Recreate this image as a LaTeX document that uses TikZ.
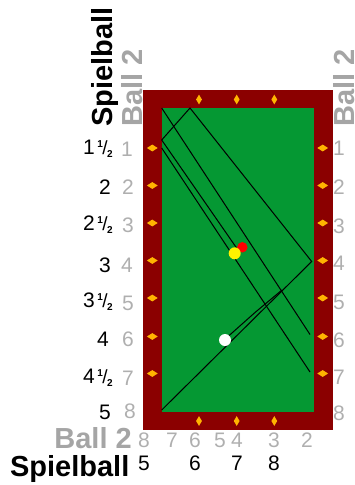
\documentclass[tikz,border=0pt]{standalone}
\usepackage{fontspec}
\setmainfont{Liberation Sans}
\usepackage{tikz}
\usetikzlibrary{shapes.geometric}
\definecolor{cushion}{RGB}{139,0,0}
\definecolor{cloth}{RGB}{5,152,51}
\definecolor{marker}{RGB}{255,180,0}
\definecolor{ballgray}{RGB}{165,165,165}
\definecolor{numgray}{RGB}{175,175,175}
\newcommand{\halb}[1]{#1\kern2.5pt\raisebox{7pt}{\fontsize{10}{10}\selectfont\bfseries 1}\kern-0.5pt{\fontsize{19}{19}\selectfont/}\kern-0.5pt\raisebox{-3pt}{\fontsize{10}{10}\selectfont\bfseries 2}}
\tikzset{
  blacknum/.style={inner sep=0pt,font=\fontsize{21}{21}\selectfont,text=black},
  graynum/.style={inner sep=0pt,font=\fontsize{21}{21}\selectfont,text=numgray},
  caption/.style={inner sep=0pt,font=\fontsize{29}{29}\selectfont\bfseries},
  topmark/.style={diamond,fill=marker,inner sep=0pt,minimum width=6pt,minimum height=10pt},
  sidemark/.style={diamond,fill=marker,inner sep=0pt,minimum width=11pt,minimum height=7pt},
  ball/.style={circle,inner sep=0pt,minimum size=12pt},
  track/.style={black,line width=1pt}
}
\begin{document}
\begin{tikzpicture}[x=1pt,y=-1pt]
  \useasboundingbox (0,0) rectangle (355,485);
  \fill[cushion] (143,90) rectangle (333,430);
  \fill[cloth] (161.5,107.5) rectangle (313.5,412);
  % markers on the cushion
  \node[topmark] (t1) at (199,99.5) {};
  \node[topmark] (t2) at (236.7,99.5) {};
  \node[topmark] (t3) at (274.3,99.5) {};
  \node[topmark] (b1) at (199,421) {};
  \node[topmark] (b2) at (236.7,421) {};
  \node[topmark] (b3) at (274.3,421) {};
  \node[sidemark] (l1) at (152.3,148) {};
  \node[sidemark] (l2) at (152.3,185.5) {};
  \node[sidemark] (l3) at (152.3,223) {};
  \node[sidemark] (l4) at (152.3,260.5) {};
  \node[sidemark] (l5) at (152.3,298) {};
  \node[sidemark] (l6) at (152.3,336.5) {};
  \node[sidemark] (l7) at (152.3,373.5) {};
  \node[sidemark] (r1) at (322.7,148) {};
  \node[sidemark] (r2) at (322.7,185.5) {};
  \node[sidemark] (r3) at (322.7,223) {};
  \node[sidemark] (r4) at (322.7,260.5) {};
  \node[sidemark] (r5) at (322.7,298) {};
  \node[sidemark] (r6) at (322.7,336.5) {};
  \node[sidemark] (r7) at (322.7,373.5) {};
  % ball tracks
  \coordinate (cornerA) at (161.7,108);
  \coordinate (cornerB) at (161.7,410);
  \coordinate (railA) at (161.7,140);
  \coordinate (railB) at (161.7,148);
  \coordinate (topA) at (190,108);
  \coordinate (rightA) at (311.7,261.5);
  \coordinate (rightB) at (310,334.5);
  \coordinate (rightC) at (310,372);
  \coordinate (contact) at (238,250);
  \coordinate (kissA) at (228,336.5);
  \coordinate (kissB) at (255,312.5);
  \coordinate (kissC) at (282,290);
  \draw[track] (cornerA) -- (rightB);
  \draw[track] (railB) -- (rightC);
  \draw[track] (railA) -- (topA) -- (rightA) -- (cornerB);
  \draw[track] (railA) -- (contact);
  \draw[track] (kissA) -- (kissB) -- (kissC);
  \node[ball,fill=red,minimum size=10.5pt] (redball) at (242.3,247.3) {};
  \node[ball,fill=yellow] (yellowball) at (234.7,253.3) {};
  \node[ball,fill=white] (whiteball) at (225,340) {};
  % left numbers
  \node[graynum] (g1) at (127,149) {1};
  \node[graynum] (g2) at (128,187) {2};
  \node[graynum] (g3) at (128,225) {3};
  \node[graynum] (g4) at (127,265) {4};
  \node[graynum] (g5) at (128,303) {5};
  \node[graynum] (g6) at (128,339) {6};
  \node[graynum] (g7) at (128,378) {7};
  \node[graynum] (g8) at (130,411) {8};
  \node[blacknum,anchor=east] (s1) at (113,149) {\halb{1}};
  \node[blacknum] (s2) at (105,187) {2};
  \node[blacknum,anchor=east] (s3) at (113,225) {\halb{2}};
  \node[blacknum] (s4) at (105,265) {3};
  \node[blacknum,anchor=east] (s5) at (113,302) {\halb{3}};
  \node[blacknum] (s6) at (103,339) {4};
  \node[blacknum,anchor=east] (s7) at (113,378) {\halb{4}};
  \node[blacknum] (s8) at (105,412) {5};
  % right numbers
  \node[graynum] (h1) at (339,148) {1};
  \node[graynum] (h2) at (339,187) {2};
  \node[graynum] (h3) at (339,226) {3};
  \node[graynum] (h4) at (339,263) {4};
  \node[graynum] (h5) at (339,302) {5};
  \node[graynum] (h6) at (339,340) {6};
  \node[graynum] (h7) at (339,377) {7};
  \node[graynum] (h8) at (339,413) {8};
  % bottom numbers
  \node[graynum] (u8) at (144,440) {8};
  \node[graynum] (u7) at (172,440) {7};
  \node[graynum] (u6) at (195,440) {6};
  \node[graynum] (u5) at (220,440) {5};
  \node[graynum] (u4) at (237,440) {4};
  \node[graynum] (u3) at (274,440) {3};
  \node[graynum] (u2) at (307,440) {2};
  \node[blacknum] (v5) at (144,463) {5};
  \node[blacknum] (v6) at (195,463) {6};
  \node[blacknum] (v7) at (237,463) {7};
  \node[blacknum] (v8) at (274,463) {8};
  % captions
  \node[caption,text=ballgray,anchor=base east] (ballbottom) at (132,448) {Ball 2};
  \node[caption,text=black,anchor=base east] (cuebottom) at (129.5,476) {Spielball};
  \node[caption,text=black,rotate=90,anchor=base west] (cueleft) at (112,127) {Spielball};
  \node[caption,text=ballgray,rotate=90,anchor=base west] (ballleft) at (142,127) {Ball 2};
  \node[caption,text=ballgray,rotate=90,anchor=base west] (ballright) at (354,127) {Ball 2};
\end{tikzpicture}
\end{document}
